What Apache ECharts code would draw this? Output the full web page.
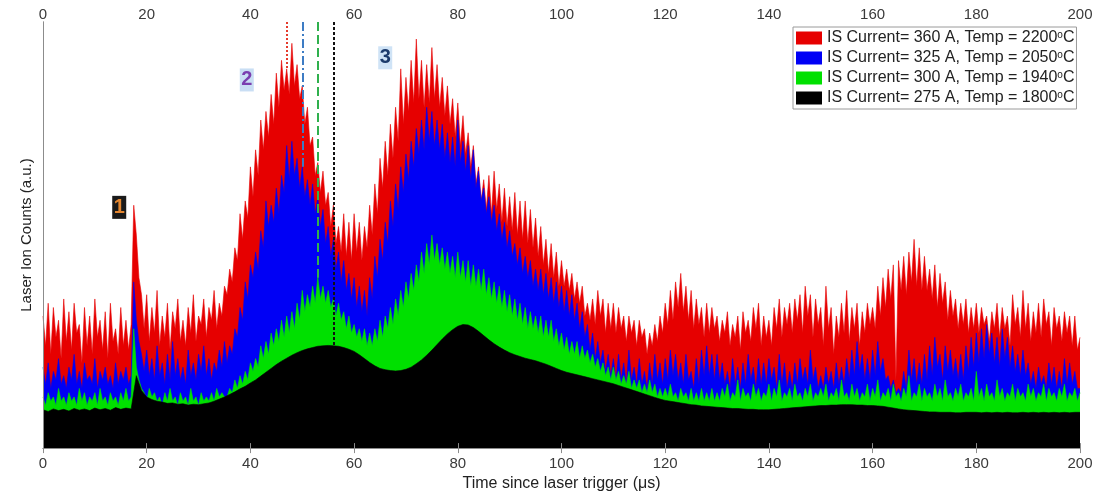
<!DOCTYPE html>
<html>
<head>
<meta charset="utf-8">
<script src="https://cdn.jsdelivr.net/npm/echarts@6/dist/echarts.min.js"></script>
<style>
html,body{margin:0;padding:0;background:#fff}
#chart{width:1120px;height:497px}
</style>
</head>
<body>
<div id="chart"></div>
<script>
// x range of the trace (µs) and tick step
var xMin = 0, xMax = 200, xStep = 20;
var yMax = 100; // arbitrary units, no labels on this axis

var names = [
  'IS Current= 360 A, Temp = 2200°C',
  'IS Current= 325 A, Temp = 2050°C',
  'IS Current= 300 A, Temp = 1940°C',
  'IS Current= 275 A, Temp = 1800°C'
];

// red / blue / green traces sampled every 0.5 us, one row per 10 us
var dtFine = 0.5;
var red = [
  31,24,34,22,33,26,30,21,35,25,32,23,34,27,29,20,33,24,31,22,
  35,26,30,23,32,21,34,25,28,22,33,24,30,23,29,57,50,40,36,28,
  36,25,33,27,37,24,31,26,34,23,32,28,35,25,30,24,33,27,36,25,
  31,29,35,26,33,30,37,28,34,31,38,36,42,39,47,44,55,49,58,54,
  66,59,70,64,77,70,79,73,83,76,88,80,91,84,89,83,95,85,90,82,
  85,76,80,71,73,64,67,60,65,57,60,52,57,48,52,46,55,45,53,44,
  55,46,53,44,52,47,57,50,62,55,68,61,72,64,76,68,80,72,89,76,
  87,79,91,81,96,82,91,80,90,81,94,82,90,80,87,78,85,76,82,73,
  81,71,78,69,74,66,71,62,66,58,63,56,64,55,65,56,62,53,61,52,
  59,51,60,50,58,49,58,48,56,47,54,45,52,43,49,41,48,40,46,38,
  44,38,42,37,41,35,39,34,38,31,34,30,35,29,37,31,35,27,34,28,
  34,27,33,28,31,25,31,27,30,24,30,26,28,22,27,24,29,25,31,27,
  34,29,37,30,39,33,41,32,38,30,37,28,35,29,33,26,34,27,33,28,
  31,25,30,27,32,24,29,26,31,23,32,27,30,25,33,28,34,24,31,26,
  30,24,33,28,35,26,33,29,34,27,35,30,36,27,38,31,36,26,35,29,
  33,24,38,28,33,22,31,26,34,27,37,25,33,28,34,24,32,27,34,29,
  33,28,38,31,40,33,42,35,43,16,44,37,45,36,46,39,49,38,47,37,
  45,37,42,35,43,33,41,34,39,30,37,31,35,28,34,29,35,27,33,28,
  34,27,33,29,31,25,32,28,34,26,33,28,31,24,36,29,33,26,37,28,
  34,25,32,27,34,26,35,29,32,24,33,28,31,25,32,27,31,24,31,23,
  26
];
var blue = [
  19,15,20,14,18,16,21,15,17,14,19,16,22,15,18,14,20,16,17,15,
  21,14,18,16,19,15,17,14,20,15,18,16,19,15,17,39,30,25,22,18,
  23,17,21,16,24,17,20,15,22,16,25,17,21,16,19,15,23,17,20,16,
  22,18,24,17,21,16,20,18,23,19,25,20,24,22,28,26,33,30,39,35,
  43,40,46,42,51,47,58,52,57,53,61,55,64,60,71,63,72,64,68,61,
  66,59,63,57,62,55,59,52,56,48,52,45,49,42,46,39,44,37,41,35,
  40,33,38,32,37,31,40,35,45,40,49,44,53,48,58,52,62,56,66,60,
  69,63,72,66,75,69,77,70,80,72,79,71,77,70,76,68,74,67,73,66,
  77,67,72,65,71,63,70,61,65,58,61,55,59,53,57,51,55,49,53,47,
  51,45,48,43,47,41,45,40,44,38,42,37,42,36,41,35,40,34,39,33,
  38,32,37,31,36,30,34,28,32,26,29,23,27,21,25,20,23,18,22,17,
  21,16,22,16,20,15,23,16,19,15,21,15,18,14,20,15,22,16,20,15,
  21,16,23,17,22,16,20,15,22,16,18,14,21,15,23,17,24,17,22,16,
  22,16,20,15,18,14,21,15,19,14,20,15,22,16,19,14,21,15,20,15,
  21,16,19,14,22,15,20,14,18,14,20,15,21,16,19,15,23,16,19,14,
  17,14,19,15,18,14,20,15,19,15,21,16,23,17,25,18,22,16,21,16,
  23,17,25,18,21,16,17,14,16,13,14,13,18,14,23,16,21,15,20,15,
  22,16,24,17,26,19,22,16,24,18,23,17,21,16,22,16,24,18,26,19,
  27,20,28,21,29,22,27,20,26,19,28,21,26,19,24,18,22,17,23,17,
  20,15,18,14,19,15,17,14,20,15,19,14,18,14,21,15,20,15,18,14,
  14
];
var green = [
  12,10,13,11,12,10,14,11,12,10,13,11,12,10,14,11,13,10,12,11,
  13,10,14,11,12,10,13,11,12,10,13,11,14,11,12,28,19,16,14,13,
  11,14,12,13,11,12,10,13,11,14,11,12,10,13,11,12,10,14,11,12,
  10,13,11,12,11,13,11,14,12,13,12,12,14,13,16,14,17,15,18,16,
  20,18,21,19,24,21,25,22,27,24,28,25,30,26,31,27,32,28,34,30,
  37,32,36,33,38,34,40,35,38,34,37,33,35,31,34,30,32,28,31,27,
  29,26,28,25,28,24,27,24,28,25,30,26,31,28,33,29,35,31,37,33,
  39,35,41,37,43,39,46,41,48,43,50,44,48,43,47,42,46,41,45,40,
  46,40,44,39,44,38,43,38,42,37,42,36,40,35,39,34,38,33,37,32,
  36,31,35,30,34,29,33,28,32,28,31,27,31,26,30,26,30,25,28,24,
  27,23,26,22,25,22,25,21,24,21,23,20,22,19,21,18,20,17,19,16,
  19,16,18,15,17,15,18,14,16,14,16,13,15,13,16,13,15,12,14,12,
  14,12,15,12,13,11,14,12,13,11,14,11,13,11,14,11,13,11,14,11,
  13,11,14,12,15,11,13,12,16,11,14,12,13,11,15,12,14,11,13,12,
  15,11,14,12,16,11,13,12,14,11,15,12,13,11,14,12,15,11,13,12,
  14,12,15,11,13,12,14,11,16,12,13,11,15,12,14,11,13,12,15,11,
  14,12,16,11,13,12,14,11,15,12,13,11,14,12,17,11,13,12,15,11,
  14,12,13,11,15,12,14,11,16,12,13,11,14,12,15,11,13,12,14,11,
  18,12,14,11,15,12,13,11,16,12,14,11,13,12,15,11,14,12,13,11,
  15,12,14,11,13,12,15,11,14,12,13,11,14,12,15,11,13,12,14,11,
  13
];
// black trace sampled every 1 us
var dtCoarse = 1;
var black = [
  9,8.6,9.2,8.8,9.1,8.7,9.3,8.9,9.2,8.8,9.4,9,9.3,8.9,9.5,9.1,9.4,9.2,17,13.5,
  12,11.4,11,10.8,10.5,10.6,10.3,10.4,10.1,10.3,10.2,10.4,10.6,11,11.5,12,12.6,13.2,13.9,14.5,
  15.3,16,16.9,17.8,18.7,19.6,20.4,21.1,21.8,22.4,22.9,23.3,23.6,23.9,24,24.1,24,23.9,23.6,23.2,
  22.7,21.9,21,20.1,19.3,18.7,18.4,18.2,18.1,18.2,18.5,19,19.8,20.7,21.8,23,24.3,25.6,26.8,27.8,
  28.6,29,28.9,28.3,27.4,26.4,25.4,24.5,23.7,23,22.4,21.9,21.5,21.1,20.8,20.5,20.1,19.7,19.2,18.7,
  18.2,17.8,17.5,17.2,16.9,16.6,16.3,16,15.7,15.4,15.1,14.7,14.3,13.9,13.5,13.1,12.7,12.3,11.9,11.5,
  11.2,11,10.8,10.6,10.4,10.2,10.1,9.9,9.8,9.7,9.6,9.5,9.4,9.3,9.3,9.2,9.1,9.1,9,9,
  9,9.1,9.2,9.3,9.4,9.5,9.6,9.7,9.8,9.9,10,10,10.1,10.1,10.2,10.2,10.2,10.1,10.1,10,
  10,9.9,9.8,9.6,9.4,9.2,9,8.9,8.8,8.7,8.6,8.5,8.5,8.4,8.4,8.4,8.3,8.3,8.4,8.4,
  8.4,8.3,8.4,8.3,8.4,8.3,8.4,8.3,8.3,8.4,8.3,8.4,8.3,8.4,8.3,8.4,8.3,8.4,8.3,8.4,
  8.4
];

// onset times marked by the vertical lines (us), one per trace
var markers = [47, 50, 53, 56];
// peak annotations
var noteX = [14.7, 39.3, 66.0];
var noteY = [56.5, 86.4, 91.6];
var noteText = ['1', '2', '3'];

var colors = ['#e60000', '#0000f5', '#00e000', '#000000'];
var markStyles = [
  {color: '#e53b2c', width: 2, type: [2, 2]},
  {color: '#3d7cc4', width: 2, type: [9, 3, 2, 3]},
  {color: '#2fb04d', width: 2, type: [9, 4]},
  {color: '#111111', width: 2, type: [3, 2]}
];
var noteFg = ['#e4862f', '#7a3fb0', '#1b3a6b'];
var noteBg = ['#1a1a1a', '#c9def4', '#cfe3f6'];

var font = 'Liberation Sans, Arial, sans-serif';

function toPairs(arr, dt) {
  return arr.map(function (v, i) { return [i * dt, v]; });
}

function trace(i, arr, dt) {
  var endVal = arr[Math.round(markers[i] / dt)];
  return {
    name: names[i],
    type: 'line',
    data: toPairs(arr, dt),
    showSymbol: false,
    symbol: 'none',
    z: 2 + i,
    lineStyle: {width: 0.6, color: colors[i]},
    itemStyle: {color: colors[i]},
    areaStyle: {color: colors[i], opacity: 1},
    markLine: {
      silent: true,
      symbol: ['none', 'none'],
      label: {show: false},
      z: 20,
      lineStyle: markStyles[i],
      data: [[{coord: [markers[i], yMax]}, {coord: [markers[i], endVal]}]]
    }
  };
}

var series = [
  trace(0, red, dtFine),
  trace(1, blue, dtFine),
  trace(2, green, dtFine),
  trace(3, black, dtCoarse)
];

series[3].markPoint = {
  symbol: 'rect',
  symbolSize: [14, 23],
  z: 25,
  label: {show: true, fontSize: 20, fontWeight: 'bold', fontFamily: font, formatter: '{b}'},
  data: noteX.map(function (x, k) {
    return {
      name: noteText[k],
      coord: [x, noteY[k]],
      itemStyle: {color: noteBg[k]},
      label: {color: noteFg[k]}
    };
  })
};

var axisLineStyle = {lineStyle: {color: '#8c8c8c', width: 1}};
var labelStyle = {color: '#3a3a3a', fontSize: 15, fontFamily: font};

var myChart = echarts.init(document.getElementById('chart'));
var option = {
  animation: false,
  backgroundColor: '#fff',
  grid: {left: 43, right: 40, top: 22, bottom: 46},
  legend: {
    orient: 'vertical',
    left: 793,
    top: 27,
    z: 30,
    icon: 'rect',
    itemWidth: 26,
    itemHeight: 13,
    itemGap: 4,
    padding: [3, 2, 3, 3],
    borderColor: '#9a9a9a',
    borderWidth: 1,
    backgroundColor: '#fff',
    textStyle: {
      fontSize: 16,
      lineHeight: 15,
      color: '#222',
      fontFamily: font,
      rich: {
        sup: {fontSize: 10, lineHeight: 10, fontFamily: font, color: '#222', verticalAlign: 'top'}
      }
    },
    formatter: function (n) { return n.replace('°', '{sup|o}'); },
    data: names
  },
  xAxis: [
    {
      type: 'value', min: xMin, max: xMax, interval: xStep, position: 'bottom', z: 30,
      name: 'Time since laser trigger (\u03bcs)', nameLocation: 'middle', nameGap: 27,
      nameTextStyle: {fontSize: 16, color: '#222', fontFamily: font},
      axisLine: axisLineStyle,
      axisTick: {inside: true, length: 5, lineStyle: {color: '#8c8c8c'}},
      axisLabel: Object.assign({margin: 8}, labelStyle),
      splitLine: {show: false}
    },
    {
      type: 'value', min: xMin, max: xMax, interval: xStep, position: 'top', z: 30,
      axisLine: axisLineStyle,
      axisTick: {inside: true, length: 5, lineStyle: {color: '#8c8c8c'}},
      axisLabel: Object.assign({margin: 0}, labelStyle),
      splitLine: {show: false}
    }
  ],
  yAxis: [
    {
      type: 'value', min: 0, max: yMax, position: 'left', z: 30,
      name: 'Laser Ion Counts (a.u.)', nameLocation: 'middle', nameGap: 9,
      nameTextStyle: {fontSize: 15, color: '#222', fontFamily: font},
      axisLine: {show: true, lineStyle: {color: '#8c8c8c'}},
      axisTick: {show: false},
      axisLabel: {show: false},
      splitLine: {show: false}
    },
    {
      type: 'value', min: 0, max: yMax, position: 'right', z: 30,
      axisLine: {show: true, lineStyle: {color: '#8c8c8c'}},
      axisTick: {show: false},
      axisLabel: {show: false},
      splitLine: {show: false}
    }
  ],
  series: series
};
myChart.setOption(option);
</script>
</body>
</html>
